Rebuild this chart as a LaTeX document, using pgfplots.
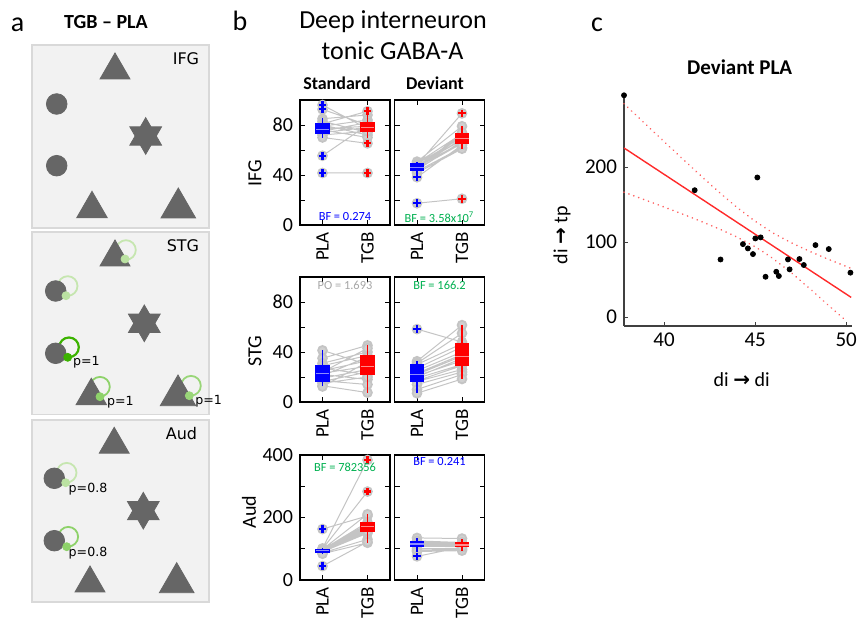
\documentclass[border=0pt]{standalone}
\usepackage{pgfplots}
\pgfplotsset{compat=1.18}
\usepackage{fontspec}
\setmainfont{Carlito}
\newfontfamily\dejavu{DejaVu Sans}

\definecolor{shape}{HTML}{666666}
\definecolor{boxbg}{HTML}{F2F2F2}
\definecolor{boxln}{HTML}{D9D9D9}
\definecolor{gA}{HTML}{C6E6B0}
\definecolor{gB}{HTML}{8ED26A}
\definecolor{gC}{HTML}{3CB300}
\definecolor{subjc}{HTML}{C4C4C4}
\definecolor{bfgreen}{HTML}{00B050}
\definecolor{pogray}{HTML}{A6A6A6}
\definecolor{fitred}{HTML}{FF2A2A}

\tikzset{
  plab/.style={anchor=west, inner sep=0pt, font=\dejavu\fontsize{6.3}{7}\selectfont},
  bf/.style={font=\fontsize{6.2}{7}\selectfont, text=#1},
}

% box: colour, left, centre, right, lower whisker, lower quartile, median, upper quartile, upper whisker
\newcommand{\bxp}[9]{%
  \addplot[#1, line width=0.9pt] coordinates {(#3,#5) (#3,#9)};
  \addplot[fill=#1, draw=#1, line width=0.4pt] coordinates {(#2,#6) (#4,#6) (#4,#8) (#2,#8)} -- cycle;
  \addplot[#1!45!white, line width=0.6pt] coordinates {(#2,#7) (#4,#7)};
}

\pgfplotsset{
  /pgf/number format/assume math mode=true,
  schem/.style={scale only axis, anchor=north west, width=88.5pt, xmin=32, xmax=209,
    y dir=reverse, xtick=\empty, ytick=\empty, axis line style={boxln, line width=0.6pt},
    axis background/.style={fill=boxbg}, clip=false},
  shp/.style={only marks, mark=#1, color=shape},
  ring/.style={only marks, mark=o, mark size=4.9pt, color=#1, line width=0.9pt},
  dot/.style={only marks, mark=*, mark size=2pt, color=#1},
  pb/.style={scale only axis, anchor=south west, width=45pt, height=62.5pt,
    xmin=0.5, xmax=2.5, xtick={1,2}, xticklabels={PLA,TGB},
    xticklabel style={rotate=90, anchor=east, font=\fontsize{9.5}{10}\selectfont},
    yticklabel style={font=\fontsize{10}{10}\selectfont},
    tick align=inside, major tick length=2.5pt, tick style={black, thin},
    axis line style={black, line width=0.6pt}, unbounded coords=jump,
    clip=false, clip marker paths=true},
  pct/.style={ymin=0, ymax=100, ytick={0,20,...,100}},
  subj/.style={subjc, line width=0.5pt, mark=*, mark size=2.2pt,
    mark options={fill=subjc!80, draw=subjc, line width=0.9pt}},
  outl/.style={only marks, mark=+, mark size=1.9pt, #1, mark options={line width=1.1pt}},
}

\begin{document}
\begin{tikzpicture}
\useasboundingbox (0pt,0pt) rectangle (428.5pt,-312pt);

% ---------- panel a ----------
\node[font=\fontsize{14}{14}\selectfont] at (8.75pt,-12.25pt) {a};
\node[font=\bfseries\fontsize{10}{11}\selectfont] at (53pt,-11pt) {TGB – PLA};

\begin{axis}[schem, at={(16pt,-22.5pt)}, height=91.5pt, ymin=45, ymax=228]
\addplot[shp=triangle*, mark size=8.65pt] coordinates {(115,70.3)};
\addplot[shp=triangle*, mark size=8.85pt] coordinates {(92,209)};
\addplot[shp=triangle*, mark size=10pt] coordinates {(178.3,208)};
\addplot[shp=*, mark size=5.15pt] coordinates {(56.7,104) (56.7,165.7)};
\addplot[shp=triangle*, mark size=9.15pt] coordinates {(145.7,136)};
\addplot[shp=triangle*, mark size=9.15pt, mark options={rotate=180}] coordinates {(145.7,136)};
\node[anchor=east, inner sep=0pt, font=\dejavu\fontsize{8}{9}\selectfont] at (199.5,59) {IFG};
\end{axis}

\begin{axis}[schem, at={(16pt,-116pt)}, height=91.35pt, ymin=232, ymax=414.7]
\addplot[ring=gA] coordinates {(126,250) (67.7,286)};
\addplot[ring=gC, line width=1.1pt] coordinates {(69,347.3)};
\addplot[ring=gB] coordinates {(100,386.7)};
\addplot[ring=gB!80!gA] coordinates {(191,385.7)};
\addplot[shp=triangle*, mark size=8.65pt] coordinates {(115,257.3)};
\addplot[shp=triangle*, mark size=8.85pt] coordinates {(91.3,396)};
\addplot[shp=triangle*, mark size=10.25pt] coordinates {(178,395.5)};
\addplot[shp=*, mark size=5.15pt] coordinates {(55.7,291) (55.7,353.3)};
\addplot[shp=triangle*, mark size=9.15pt] coordinates {(144.3,323.3)};
\addplot[shp=triangle*, mark size=9.15pt, mark options={rotate=180}] coordinates {(144.3,323.3)};
\addplot[dot=gA!80!gB] coordinates {(125,259) (66,295.7)};
\addplot[dot=gC] coordinates {(67.7,357.3)};
\addplot[dot=gB] coordinates {(100,396.7)};
\addplot[dot=gB!80!gA] coordinates {(189.3,395.7)};
\node[plab] at (72.7,362) {p=1};
\node[plab] at (106.7,402.3) {p=1};
\node[plab] at (195,401.7) {p=1};
\node[anchor=east, inner sep=0pt, font=\dejavu\fontsize{8}{9}\selectfont] at (199.5,246) {STG};
\end{axis}

\begin{axis}[schem, at={(16pt,-210pt)}, height=91pt, ymin=420, ymax=602]
\addplot[ring=gA] coordinates {(66.7,472.7)};
\addplot[ring=gB] coordinates {(68.3,536.7)};
\addplot[shp=triangle*, mark size=8.65pt] coordinates {(114.2,444.6)};
\addplot[shp=triangle*, mark size=8.65pt] coordinates {(90,583.3)};
\addplot[shp=triangle*, mark size=10pt] coordinates {(176.7,582.7)};
\addplot[shp=*, mark size=5.15pt] coordinates {(54.3,478.3) (54.3,540.7)};
\addplot[shp=triangle*, mark size=9.15pt] coordinates {(143.3,510.7)};
\addplot[shp=triangle*, mark size=9.15pt, mark options={rotate=180}] coordinates {(143.3,510.7)};
\addplot[dot=gA!80!gB] coordinates {(65.7,482.7)};
\addplot[dot=gB] coordinates {(66.7,546.7)};
\node[plab] at (68.3,489.3) {p=0.8};
\node[plab] at (68.3,552.7) {p=0.8};
\node[anchor=east, inner sep=0pt, font=\dejavu\fontsize{8}{9}\selectfont] at (197.5,434) {Aud};
\end{axis}

% ---------- panel b ----------
\node[font=\fontsize{14}{14}\selectfont] at (120pt,-10.5pt) {b};
\node[anchor=base, font=\fontsize{13}{14}\selectfont] at (196.5pt,-14.15pt) {Deep interneuron};
\node[anchor=base, font=\fontsize{13}{14}\selectfont] at (196.25pt,-30pt) {tonic GABA-A};
\node[anchor=base, font=\bfseries\fontsize{9}{10}\selectfont] at (168.5pt,-45pt) {Standard};
\node[anchor=base, font=\bfseries\fontsize{9}{10}\selectfont] at (217.5pt,-45pt) {Deviant};
\node[rotate=90, font=\fontsize{10}{10}\selectfont] at (127.5pt,-86.5pt) {IFG};
\node[rotate=90, font=\fontsize{10}{10}\selectfont] at (127.5pt,-175.5pt) {STG};
\node[rotate=90, font=\fontsize{10}{10}\selectfont] at (124.5pt,-256pt) {Aud};

% IFG standard
\begin{axis}[pb, pct, at={(150pt,-112.5pt)}, yticklabels={0,,40,,80,}]
\addplot[subj] coordinates {
(1,96) (2,77) (1.5,nan) (1,92.5) (2,80) (1.5,nan) (1,85) (2,88) (1.5,nan)
(1,83) (2,74) (1.5,nan) (1,81) (2,91) (1.5,nan) (1,80) (2,72) (1.5,nan)
(1,79) (2,84) (1.5,nan) (1,78) (2,76) (1.5,nan) (1,77) (2,79) (1.5,nan)
(1,76) (2,70) (1.5,nan) (1,75) (2,82) (1.5,nan) (1,74) (2,78) (1.5,nan)
(1,72) (2,75) (1.5,nan) (1,70) (2,65.3) (1.5,nan) (1,55.4) (2,80) (1.5,nan)
(1,41.6) (2,41.6)};
\bxp{blue}{0.85}{1}{1.15}{69.6}{73.6}{76.5}{81.6}{85.6}
\bxp{red}{1.85}{2}{2.15}{69.6}{74.7}{78}{81.9}{88}
\addplot[outl=blue] coordinates {(1,96) (1,92.5) (1,55.4) (1,41.6)};
\addplot[outl=red] coordinates {(2,91) (2,65.3) (2,41.6)};
\node[bf=blue] at (axis cs:1.5,6.5) {BF = 0.274};
\end{axis}

% IFG deviant
\begin{axis}[pb, pct, at={(197.25pt,-112.5pt)}, yticklabels={}]
\addplot[subj] coordinates {
(1,50.7) (2,79) (1.5,nan) (1,49.6) (2,73) (1.5,nan) (1,49) (2,70) (1.5,nan)
(1,48) (2,89.3) (1.5,nan) (1,47.5) (2,68) (1.5,nan) (1,47) (2,72) (1.5,nan)
(1,46.5) (2,66) (1.5,nan) (1,46) (2,71) (1.5,nan) (1,46) (2,69) (1.5,nan)
(1,45) (2,65.3) (1.5,nan) (1,44.5) (2,74) (1.5,nan) (1,44) (2,67) (1.5,nan)
(1,43) (2,62) (1.5,nan) (1,41.6) (2,61) (1.5,nan) (1,38.2) (2,64) (1.5,nan)
(1,17.4) (2,21)};
\bxp{blue}{0.85}{1}{1.15}{41.6}{44}{46}{49.6}{50.7}
\bxp{red}{1.85}{2}{2.15}{61}{65.3}{69.3}{73.3}{79}
\addplot[outl=blue] coordinates {(1,38.2) (1,17.4)};
\addplot[outl=red] coordinates {(2,89.3) (2,21)};
\node[bf=bfgreen] at (axis cs:1.5,6.5) {BF = 3.58x10\textsuperscript{7}};
\end{axis}

% STG standard
\begin{axis}[pb, pct, at={(150pt,-201pt)}, yticklabels={0,,40,,80,}]
\addplot[subj] coordinates {
(1,41.3) (2,30) (1.5,nan) (1,35) (2,45.3) (1.5,nan) (1,31) (2,40) (1.5,nan)
(1,29) (2,37.2) (1.5,nan) (1,27) (2,21.9) (1.5,nan) (1,25) (2,33) (1.5,nan)
(1,24) (2,43) (1.5,nan) (1,23) (2,28.6) (1.5,nan) (1,22) (2,18) (1.5,nan)
(1,21) (2,36) (1.5,nan) (1,19) (2,26) (1.5,nan) (1,17) (2,14) (1.5,nan)
(1,16.4) (2,24) (1.5,nan) (1,15) (2,20) (1.5,nan) (1,13) (2,7.5) (1.5,nan)
(1,12.4) (2,32)};
\bxp{blue}{0.85}{1}{1.15}{12.4}{16.4}{22.7}{29}{41.3}
\bxp{red}{1.85}{2}{2.15}{7.5}{21.9}{28.6}{37.2}{45.3}
\node[bf=pogray] at (axis cs:1.5,93) {PO = 1.693};
\end{axis}

% STG deviant
\begin{axis}[pb, pct, at={(197.25pt,-201pt)}, yticklabels={}]
\addplot[subj] coordinates {
(1,58.3) (2,48) (1.5,nan) (1,32.6) (2,61.5) (1.5,nan) (1,31) (2,55) (1.5,nan)
(1,30) (2,46.7) (1.5,nan) (1,27) (2,44) (1.5,nan) (1,25) (2,40) (1.5,nan)
(1,23) (2,38) (1.5,nan) (1,22) (2,36.7) (1.5,nan) (1,21) (2,33) (1.5,nan)
(1,20) (2,35) (1.5,nan) (1,19) (2,30) (1.5,nan) (1,17) (2,29.1) (1.5,nan)
(1,16.4) (2,26) (1.5,nan) (1,14) (2,24) (1.5,nan) (1,10) (2,22) (1.5,nan)
(1,7) (2,18.4)};
\bxp{blue}{0.85}{1}{1.15}{7}{16.4}{21.9}{30}{32.6}
\bxp{red}{1.85}{2}{2.15}{18.4}{29.1}{36.7}{46.7}{61.5}
\addplot[outl=blue] coordinates {(1,58.3)};
\node[bf=bfgreen] at (axis cs:1.5,93) {BF = 166.2};
\end{axis}

% Aud standard
\begin{axis}[pb, at={(150pt,-290pt)}, height=62.5pt, ymin=0, ymax=400, ytick={0,100,...,400},
  yticklabels={0,,200,,400}]
\addplot[subj] coordinates {
(1,163) (2,205) (1.5,nan) (1,101) (2,384) (1.5,nan) (1,99.5) (2,283) (1.5,nan)
(1,98) (2,210.5) (1.5,nan) (1,97) (2,184.5) (1.5,nan) (1,96) (2,178) (1.5,nan)
(1,95) (2,172) (1.5,nan) (1,94) (2,170) (1.5,nan) (1,93) (2,165) (1.5,nan)
(1,92) (2,160) (1.5,nan) (1,91) (2,157) (1.5,nan) (1,90) (2,150) (1.5,nan)
(1,89) (2,155.5) (1.5,nan) (1,87) (2,130) (1.5,nan) (1,84) (2,119) (1.5,nan)
(1,44.5) (2,122)};
\bxp{blue}{0.85}{1}{1.15}{84}{89}{94}{99.5}{101}
\bxp{red}{1.85}{2}{2.15}{119}{155.5}{171}{184.5}{210.5}
\addplot[outl=blue] coordinates {(1,163) (1,44.5)};
\addplot[outl=red] coordinates {(2,283) (2,384)};
\node[bf=bfgreen] at (axis cs:1.5,360) {BF = 782356};
\end{axis}

% Aud deviant
\begin{axis}[pb, at={(197.25pt,-290pt)}, height=62.5pt, ymin=0, ymax=400, ytick={0,100,...,400},
  yticklabels={}]
\addplot[subj] coordinates {
(1,134.7) (2,132.7) (1.5,nan) (1,125) (2,120) (1.5,nan) (1,122) (2,119) (1.5,nan)
(1,118) (2,115) (1.5,nan) (1,116) (2,110) (1.5,nan) (1,115) (2,113) (1.5,nan)
(1,114) (2,112) (1.5,nan) (1,113) (2,111) (1.5,nan) (1,112) (2,108) (1.5,nan)
(1,110) (2,116) (1.5,nan) (1,108) (2,106.7) (1.5,nan) (1,107) (2,110) (1.5,nan)
(1,100) (2,100) (1.5,nan) (1,95) (2,98) (1.5,nan) (1,91) (2,94) (1.5,nan)
(1,75.6) (2,105)};
\bxp{blue}{0.85}{1}{1.15}{91}{106.7}{115}{122}{134.7}
\bxp{red}{1.85}{2}{2.15}{94}{106.7}{112}{119}{132.7}
\addplot[outl=blue] coordinates {(1,75.6)};
\node[bf=blue] at (axis cs:1.5,380) {BF = 0.241};
\end{axis}

% ---------- panel c ----------
\node[font=\fontsize{14}{14}\selectfont] at (298.5pt,-12.25pt) {c};
\node[anchor=base, font=\bfseries\fontsize{10.5}{11}\selectfont] at (369.85pt,-37.5pt) {Deviant PLA};
\node[rotate=90, font=\fontsize{10}{10}\selectfont] at (281pt,-117.5pt) {di {\dejavu\bfseries →} tp};
\node[font=\fontsize{10}{10}\selectfont] at (370.85pt,-190pt) {di {\dejavu\bfseries →} di};

\begin{axis}[scale only axis, anchor=south west, at={(312pt,-163pt)}, width=113.85pt, height=115.5pt,
  xmin=37.8, xmax=50.3, ymin=-12.4, ymax=296,
  axis x line=bottom, axis y line=left, axis line style={-, black!75, line width=0.8pt},
  tick align=inside, major tick length=2pt, tick style={black!75},
  xtick={40,45,50}, ytick={0,100,200},
  ticklabel style={font=\fontsize{10.5}{11}\selectfont}, clip=false]
% confidence band
\addplot[fitred!75, line width=0.9pt, dash pattern=on 0.01pt off 2.6pt, line cap=round] coordinates {
(37.8,284.3) (39,256.7) (40,233.8) (41,211.1) (42,188.6) (43,166.7) (44,145.9) (45,127.5)
(45.5,119.5) (46,111.5) (47,98.5) (48,87.2) (49,76.8) (50.27,64.5)};
\addplot[fitred!75, line width=0.9pt, dash pattern=on 0.01pt off 2.6pt, line cap=round] coordinates {
(37.8,166.3) (39,155.5) (40,146.4) (41,137.2) (42,127.6) (43,117.5) (44,106.4) (45,93.3)
(45.5,85.7) (46,77.3) (47,58.4) (48,37.5) (49,15.6) (50,-5.5)};
% regression line
\addplot[fitred, line width=0.7pt] coordinates {(37.8,225.3) (50.27,25.8)};
\addplot[only marks, mark=*, mark size=1.25pt, black] coordinates {
(37.8,295.6) (41.68,168.9) (43.10,76.4) (44.33,96.9) (44.6,91.2) (44.88,83.6)
(45.01,104.5) (45.12,185.9) (45.3,105.9) (45.57,53.3) (46.16,60) (46.3,54.3)
(46.8,76.5) (46.89,63.2) (47.43,77) (47.67,69) (48.31,95.6) (49.04,90.3) (50.23,58.8)};
\end{axis}
\end{tikzpicture}
\end{document}
